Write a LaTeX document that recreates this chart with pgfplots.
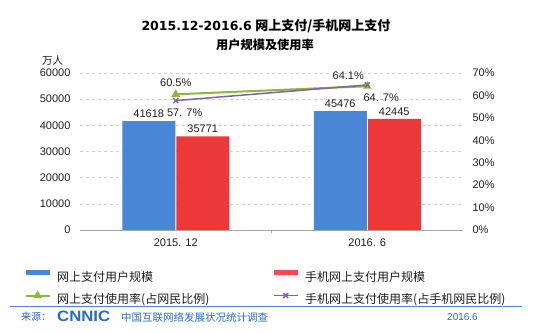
\documentclass[border=0pt]{standalone}
\usepackage{fontspec}
\setmainfont{Liberation Sans}
\newfontfamily\cjk{Noto Sans CJK SC}
\newfontfamily\dvs{DejaVu Sans}
\usepackage{pgfplots}
\pgfplotsset{compat=1.18}
\definecolor{barblue}{RGB}{74,134,214}
\definecolor{barred}{RGB}{236,56,56}
\definecolor{legred}{RGB}{250,75,75}
\definecolor{lgreen}{RGB}{140,184,60}
\definecolor{lpurple}{RGB}{128,98,168}
\definecolor{footblue}{RGB}{36,108,196}
\definecolor{txt}{RGB}{30,30,30}
\begin{document}
\begin{tikzpicture}[x=1pt,y=1pt]
\useasboundingbox (0,0) rectangle (535,332);
% titles
\node[font=\fontsize{13}{15}\selectfont\bfseries, text=black] at (266,305.5)
  {{\dvs\fontsize{12.5}{15}\selectfont 2015.12-2016.6} {\cjk 网上支付/手机网上支付}};
\node[font=\fontsize{12.2}{15}\selectfont\bfseries\cjk, text=black] at (265,287) {用户规模及使用率};
\node[font=\fontsize{10.5}{12}\selectfont\cjk, text=txt] at (52.5,271) {万人};
% footer
\draw[barblue, line width=0.9pt] (10,26) -- (522,26);
\node[anchor=west, inner sep=0pt, font=\fontsize{10}{12}\selectfont\cjk, text=footblue] at (21,15) {来源：};
\node[anchor=west, inner sep=0pt, text=footblue] at (57,15.5) {\resizebox{53pt}{10.5pt}{\bfseries CNNIC}};
\node[anchor=west, inner sep=0pt, font=\fontsize{10.5}{12}\selectfont\cjk, text=footblue] at (121,15) {中国互联网络发展状况统计调查};
\node[anchor=west, inner sep=0pt, font=\fontsize{10}{12}\selectfont, text=footblue] at (447,15) {2016.6};

\begin{axis}[
  at={(80pt,102pt)}, anchor=south west,
  scale only axis, width=383pt, height=157pt,
  xmin=-0.5, xmax=1.5, ymin=0, ymax=60000,
  xtick={0,1}, xticklabels={2015. 12, 2016. 6},
  minor xtick={0.5},
  axis x line*=bottom, axis y line*=left,
  x axis line style={draw=gray!70, -},
  y axis line style={draw=none},
  major tick length=0pt, minor tick length=3pt, tick align=inside,
  minor tick style={gray!70},
  ytick={0,10000,...,60000},
  scaled y ticks=false,
  ymajorgrids, grid style={dashed, gray!35, line width=0.6pt},
  /pgf/number format/assume math mode=true,
  /pgf/number format/1000 sep={},
  yticklabel style={font=\fontsize{11}{13}\selectfont, text=txt, xshift=-6pt},
  xticklabel style={font=\fontsize{11}{13}\selectfont, text=txt, yshift=-5pt},
  ybar=1pt, bar width=53pt,
  nodes near coords,
  every node near coord/.append style={font=\fontsize{11}{13}\selectfont, text=txt},
]
\addplot[fill=barblue, draw=none] coordinates {(0,41618) (1,45476)};
\addplot[fill=barred, draw=none] coordinates {(0,35771) (1,42445)};
\end{axis}

\begin{axis}[
  at={(80pt,102pt)}, anchor=south west,
  scale only axis, width=383pt, height=157pt,
  xmin=-0.5, xmax=1.5, ymin=0, ymax=70,
  axis x line=none, axis y line*=right,
  y axis line style={draw=none},
  major tick length=0pt,
  ytick={0,10,...,70},
  yticklabel={\pgfmathprintnumber{\tick}\%},
  /pgf/number format/assume math mode=true,
  yticklabel style={font=\fontsize{11}{13}\selectfont, text=txt, xshift=6pt},
  legend columns=2,
  legend cell align=left,
  legend image code/.code={\draw[mark repeat=2,mark phase=2,#1] plot coordinates {(0pt,4pt)(12pt,4pt)(24pt,4pt)};},
  legend style={at={(-0.1488,-0.255)}, anchor=north west, draw=none, fill=none,
    inner sep=0pt, nodes={inner sep=0pt}, column sep=5pt, row sep=10pt,
    font=\fontsize{12}{14}\selectfont\cjk, text=txt},
]
\addlegendimage{barblue, line width=5pt}
\addlegendentry{\makebox[209pt][l]{网上支付用户规模}}
\addlegendimage{legred, line width=5pt}
\addlegendentry{手机网上支付用户规模}
\addplot[color=lgreen, line width=2pt, mark=triangle*, mark size=3pt, mark options={solid}]
  coordinates {(0,60.5) (1,64.1)};
\addlegendentry{\makebox[209pt][l]{网上支付使用率(占网民比例)}}
\addplot[color=lpurple, line width=1.5pt, mark=x, mark size=3.5pt, mark options={solid}]
  coordinates {(0,57.7) (1,64.7)};
\addlegendentry{手机网上支付使用率(占手机网民比例)}
% data labels for the rate lines
\addplot[draw=none, forget plot, nodes near coords, point meta=explicit symbolic,
  every node near coord/.style={font=\fontsize{11}{13}\selectfont, text=txt, anchor=south, yshift=4pt}]
  coordinates {(0,60.5)[60.5\%]};
\addplot[draw=none, forget plot, nodes near coords, point meta=explicit symbolic,
  every node near coord/.style={font=\fontsize{11}{13}\selectfont, text=txt, anchor=south, xshift=-19pt, yshift=3pt}]
  coordinates {(1,64.1)[64.1\%]};
\addplot[draw=none, forget plot, nodes near coords, point meta=explicit symbolic,
  every node near coord/.style={font=\fontsize{11}{13}\selectfont, text=txt, anchor=north, xshift=9pt, yshift=-5pt}]
  coordinates {(0,57.7)[57. 7\%]};
\addplot[draw=none, forget plot, nodes near coords, point meta=explicit symbolic,
  every node near coord/.style={font=\fontsize{11}{13}\selectfont, text=txt, anchor=north, xshift=14pt, yshift=-5pt}]
  coordinates {(1,64.7)[64. 7\%]};
\end{axis}
\end{tikzpicture}
\end{document}
